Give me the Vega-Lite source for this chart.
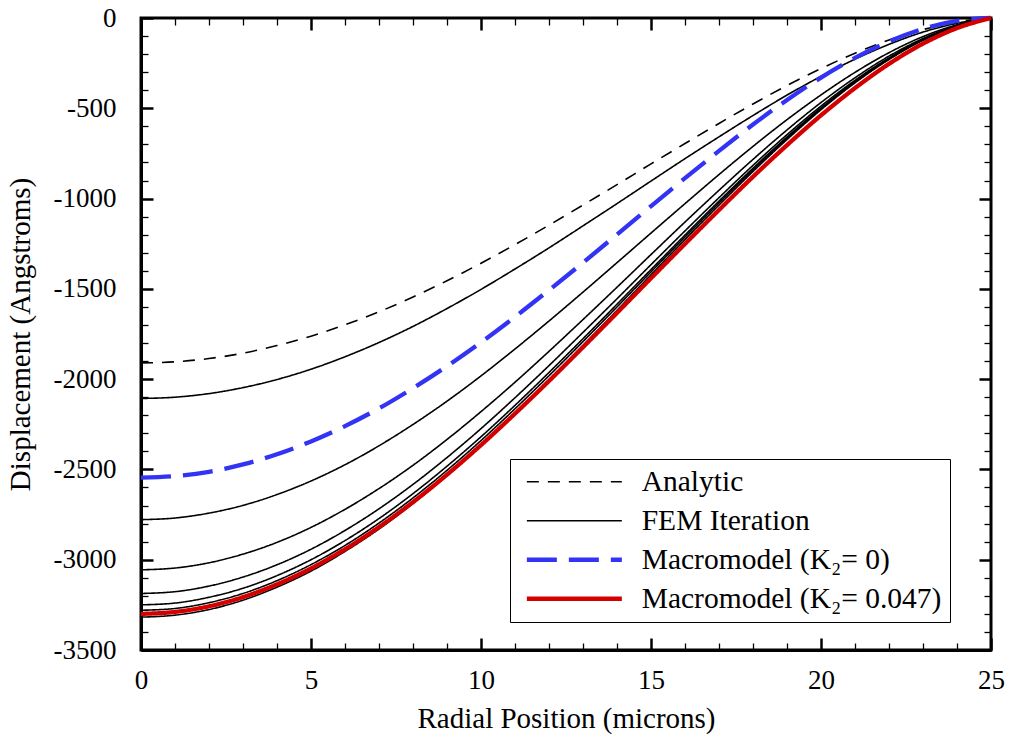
{
"$schema":"https://vega.github.io/schema/vega-lite/v6.json",
"width":850,"height":632,
"autosize":{"type":"none"},
"padding":{"left":141,"top":18,"right":18,"bottom":93},
"background":"white",
"config":{"view":{"stroke":"black","strokeWidth":3},"font":"Liberation Serif",
 "legend":{"title":null,"orient":"none","legendX":369,"legendY":441,"symbolType":"M-4,0H4","symbolSize":564,"symbolOffset":41.6,"labelOffset":52.6,"labelFont":"Liberation Serif","labelFontSize":29.5,"labelColor":"black","labelLimit":600,"strokeColor":"black","fillColor":"white","padding":8,"rowPadding":8}},
"datasets":{"d":[
{"s":"Analytic","run":"A","r":0,"w":-1910},{"s":"Analytic","run":"A","r":1,"w":-1904},{"s":"Analytic","run":"A","r":2,"w":-1886},{"s":"Analytic","run":"A","r":3,"w":-1856},{"s":"Analytic","run":"A","r":4,"w":-1814},{"s":"Analytic","run":"A","r":5,"w":-1762},{"s":"Analytic","run":"A","r":6,"w":-1699},{"s":"Analytic","run":"A","r":7,"w":-1627},{"s":"Analytic","run":"A","r":8,"w":-1545},{"s":"Analytic","run":"A","r":9,"w":-1455},{"s":"Analytic","run":"A","r":10,"w":-1358},{"s":"Analytic","run":"A","r":11,"w":-1255},{"s":"Analytic","run":"A","r":12,"w":-1147},{"s":"Analytic","run":"A","r":13,"w":-1036},{"s":"Analytic","run":"A","r":14,"w":-923},{"s":"Analytic","run":"A","r":15,"w":-808},{"s":"Analytic","run":"A","r":16,"w":-695},{"s":"Analytic","run":"A","r":17,"w":-584},{"s":"Analytic","run":"A","r":18,"w":-476},{"s":"Analytic","run":"A","r":19,"w":-374},{"s":"Analytic","run":"A","r":20,"w":-280},{"s":"Analytic","run":"A","r":21,"w":-195},{"s":"Analytic","run":"A","r":22,"w":-122},{"s":"Analytic","run":"A","r":23,"w":-64},{"s":"Analytic","run":"A","r":24,"w":-22},{"s":"Analytic","run":"A","r":25,"w":0},
{"s":"FEM Iteration","run":"F1","r":0,"w":-2107},{"s":"FEM Iteration","run":"F1","r":1,"w":-2100},{"s":"FEM Iteration","run":"F1","r":2,"w":-2080},{"s":"FEM Iteration","run":"F1","r":3,"w":-2047},{"s":"FEM Iteration","run":"F1","r":4,"w":-2002},{"s":"FEM Iteration","run":"F1","r":5,"w":-1945},{"s":"FEM Iteration","run":"F1","r":6,"w":-1876},{"s":"FEM Iteration","run":"F1","r":7,"w":-1797},{"s":"FEM Iteration","run":"F1","r":8,"w":-1708},{"s":"FEM Iteration","run":"F1","r":9,"w":-1609},{"s":"FEM Iteration","run":"F1","r":10,"w":-1503},{"s":"FEM Iteration","run":"F1","r":11,"w":-1390},{"s":"FEM Iteration","run":"F1","r":12,"w":-1273},{"s":"FEM Iteration","run":"F1","r":13,"w":-1151},{"s":"FEM Iteration","run":"F1","r":14,"w":-1028},{"s":"FEM Iteration","run":"F1","r":15,"w":-903},{"s":"FEM Iteration","run":"F1","r":16,"w":-779},{"s":"FEM Iteration","run":"F1","r":17,"w":-658},{"s":"FEM Iteration","run":"F1","r":18,"w":-540},{"s":"FEM Iteration","run":"F1","r":19,"w":-427},{"s":"FEM Iteration","run":"F1","r":20,"w":-323},{"s":"FEM Iteration","run":"F1","r":21,"w":-228},{"s":"FEM Iteration","run":"F1","r":22,"w":-146},{"s":"FEM Iteration","run":"F1","r":23,"w":-78},{"s":"FEM Iteration","run":"F1","r":24,"w":-29},{"s":"FEM Iteration","run":"F1","r":25,"w":0},
{"s":"FEM Iteration","run":"F2","r":0,"w":-2778},{"s":"FEM Iteration","run":"F2","r":1,"w":-2769},{"s":"FEM Iteration","run":"F2","r":2,"w":-2742},{"s":"FEM Iteration","run":"F2","r":3,"w":-2699},{"s":"FEM Iteration","run":"F2","r":4,"w":-2639},{"s":"FEM Iteration","run":"F2","r":5,"w":-2564},{"s":"FEM Iteration","run":"F2","r":6,"w":-2474},{"s":"FEM Iteration","run":"F2","r":7,"w":-2369},{"s":"FEM Iteration","run":"F2","r":8,"w":-2251},{"s":"FEM Iteration","run":"F2","r":9,"w":-2122},{"s":"FEM Iteration","run":"F2","r":10,"w":-1982},{"s":"FEM Iteration","run":"F2","r":11,"w":-1833},{"s":"FEM Iteration","run":"F2","r":12,"w":-1678},{"s":"FEM Iteration","run":"F2","r":13,"w":-1518},{"s":"FEM Iteration","run":"F2","r":14,"w":-1355},{"s":"FEM Iteration","run":"F2","r":15,"w":-1191},{"s":"FEM Iteration","run":"F2","r":16,"w":-1028},{"s":"FEM Iteration","run":"F2","r":17,"w":-867},{"s":"FEM Iteration","run":"F2","r":18,"w":-711},{"s":"FEM Iteration","run":"F2","r":19,"w":-563},{"s":"FEM Iteration","run":"F2","r":20,"w":-426},{"s":"FEM Iteration","run":"F2","r":21,"w":-301},{"s":"FEM Iteration","run":"F2","r":22,"w":-192},{"s":"FEM Iteration","run":"F2","r":23,"w":-103},{"s":"FEM Iteration","run":"F2","r":24,"w":-38},{"s":"FEM Iteration","run":"F2","r":25,"w":0},
{"s":"FEM Iteration","run":"F3","r":0,"w":-3056},{"s":"FEM Iteration","run":"F3","r":1,"w":-3046},{"s":"FEM Iteration","run":"F3","r":2,"w":-3017},{"s":"FEM Iteration","run":"F3","r":3,"w":-2969},{"s":"FEM Iteration","run":"F3","r":4,"w":-2904},{"s":"FEM Iteration","run":"F3","r":5,"w":-2821},{"s":"FEM Iteration","run":"F3","r":6,"w":-2721},{"s":"FEM Iteration","run":"F3","r":7,"w":-2606},{"s":"FEM Iteration","run":"F3","r":8,"w":-2477},{"s":"FEM Iteration","run":"F3","r":9,"w":-2334},{"s":"FEM Iteration","run":"F3","r":10,"w":-2180},{"s":"FEM Iteration","run":"F3","r":11,"w":-2017},{"s":"FEM Iteration","run":"F3","r":12,"w":-1846},{"s":"FEM Iteration","run":"F3","r":13,"w":-1670},{"s":"FEM Iteration","run":"F3","r":14,"w":-1491},{"s":"FEM Iteration","run":"F3","r":15,"w":-1310},{"s":"FEM Iteration","run":"F3","r":16,"w":-1130},{"s":"FEM Iteration","run":"F3","r":17,"w":-954},{"s":"FEM Iteration","run":"F3","r":18,"w":-783},{"s":"FEM Iteration","run":"F3","r":19,"w":-620},{"s":"FEM Iteration","run":"F3","r":20,"w":-468},{"s":"FEM Iteration","run":"F3","r":21,"w":-331},{"s":"FEM Iteration","run":"F3","r":22,"w":-211},{"s":"FEM Iteration","run":"F3","r":23,"w":-114},{"s":"FEM Iteration","run":"F3","r":24,"w":-42},{"s":"FEM Iteration","run":"F3","r":25,"w":0},
{"s":"FEM Iteration","run":"F4","r":0,"w":-3187},{"s":"FEM Iteration","run":"F4","r":1,"w":-3177},{"s":"FEM Iteration","run":"F4","r":2,"w":-3146},{"s":"FEM Iteration","run":"F4","r":3,"w":-3096},{"s":"FEM Iteration","run":"F4","r":4,"w":-3028},{"s":"FEM Iteration","run":"F4","r":5,"w":-2942},{"s":"FEM Iteration","run":"F4","r":6,"w":-2838},{"s":"FEM Iteration","run":"F4","r":7,"w":-2718},{"s":"FEM Iteration","run":"F4","r":8,"w":-2583},{"s":"FEM Iteration","run":"F4","r":9,"w":-2434},{"s":"FEM Iteration","run":"F4","r":10,"w":-2274},{"s":"FEM Iteration","run":"F4","r":11,"w":-2103},{"s":"FEM Iteration","run":"F4","r":12,"w":-1925},{"s":"FEM Iteration","run":"F4","r":13,"w":-1741},{"s":"FEM Iteration","run":"F4","r":14,"w":-1555},{"s":"FEM Iteration","run":"F4","r":15,"w":-1366},{"s":"FEM Iteration","run":"F4","r":16,"w":-1179},{"s":"FEM Iteration","run":"F4","r":17,"w":-995},{"s":"FEM Iteration","run":"F4","r":18,"w":-816},{"s":"FEM Iteration","run":"F4","r":19,"w":-646},{"s":"FEM Iteration","run":"F4","r":20,"w":-488},{"s":"FEM Iteration","run":"F4","r":21,"w":-345},{"s":"FEM Iteration","run":"F4","r":22,"w":-221},{"s":"FEM Iteration","run":"F4","r":23,"w":-119},{"s":"FEM Iteration","run":"F4","r":24,"w":-44},{"s":"FEM Iteration","run":"F4","r":25,"w":0},
{"s":"FEM Iteration","run":"F5","r":0,"w":-3250},{"s":"FEM Iteration","run":"F5","r":1,"w":-3240},{"s":"FEM Iteration","run":"F5","r":2,"w":-3208},{"s":"FEM Iteration","run":"F5","r":3,"w":-3158},{"s":"FEM Iteration","run":"F5","r":4,"w":-3088},{"s":"FEM Iteration","run":"F5","r":5,"w":-3000},{"s":"FEM Iteration","run":"F5","r":6,"w":-2894},{"s":"FEM Iteration","run":"F5","r":7,"w":-2772},{"s":"FEM Iteration","run":"F5","r":8,"w":-2634},{"s":"FEM Iteration","run":"F5","r":9,"w":-2482},{"s":"FEM Iteration","run":"F5","r":10,"w":-2319},{"s":"FEM Iteration","run":"F5","r":11,"w":-2145},{"s":"FEM Iteration","run":"F5","r":12,"w":-1963},{"s":"FEM Iteration","run":"F5","r":13,"w":-1776},{"s":"FEM Iteration","run":"F5","r":14,"w":-1585},{"s":"FEM Iteration","run":"F5","r":15,"w":-1393},{"s":"FEM Iteration","run":"F5","r":16,"w":-1202},{"s":"FEM Iteration","run":"F5","r":17,"w":-1014},{"s":"FEM Iteration","run":"F5","r":18,"w":-832},{"s":"FEM Iteration","run":"F5","r":19,"w":-659},{"s":"FEM Iteration","run":"F5","r":20,"w":-498},{"s":"FEM Iteration","run":"F5","r":21,"w":-352},{"s":"FEM Iteration","run":"F5","r":22,"w":-225},{"s":"FEM Iteration","run":"F5","r":23,"w":-121},{"s":"FEM Iteration","run":"F5","r":24,"w":-45},{"s":"FEM Iteration","run":"F5","r":25,"w":0},
{"s":"FEM Iteration","run":"F6","r":0,"w":-3280},{"s":"FEM Iteration","run":"F6","r":1,"w":-3270},{"s":"FEM Iteration","run":"F6","r":2,"w":-3238},{"s":"FEM Iteration","run":"F6","r":3,"w":-3187},{"s":"FEM Iteration","run":"F6","r":4,"w":-3116},{"s":"FEM Iteration","run":"F6","r":5,"w":-3027},{"s":"FEM Iteration","run":"F6","r":6,"w":-2921},{"s":"FEM Iteration","run":"F6","r":7,"w":-2797},{"s":"FEM Iteration","run":"F6","r":8,"w":-2658},{"s":"FEM Iteration","run":"F6","r":9,"w":-2505},{"s":"FEM Iteration","run":"F6","r":10,"w":-2340},{"s":"FEM Iteration","run":"F6","r":11,"w":-2164},{"s":"FEM Iteration","run":"F6","r":12,"w":-1981},{"s":"FEM Iteration","run":"F6","r":13,"w":-1792},{"s":"FEM Iteration","run":"F6","r":14,"w":-1600},{"s":"FEM Iteration","run":"F6","r":15,"w":-1406},{"s":"FEM Iteration","run":"F6","r":16,"w":-1213},{"s":"FEM Iteration","run":"F6","r":17,"w":-1024},{"s":"FEM Iteration","run":"F6","r":18,"w":-840},{"s":"FEM Iteration","run":"F6","r":19,"w":-665},{"s":"FEM Iteration","run":"F6","r":20,"w":-502},{"s":"FEM Iteration","run":"F6","r":21,"w":-355},{"s":"FEM Iteration","run":"F6","r":22,"w":-227},{"s":"FEM Iteration","run":"F6","r":23,"w":-122},{"s":"FEM Iteration","run":"F6","r":24,"w":-45},{"s":"FEM Iteration","run":"F6","r":25,"w":0},
{"s":"FEM Iteration","run":"F7","r":0,"w":-3318},{"s":"FEM Iteration","run":"F7","r":1,"w":-3307},{"s":"FEM Iteration","run":"F7","r":2,"w":-3276},{"s":"FEM Iteration","run":"F7","r":3,"w":-3224},{"s":"FEM Iteration","run":"F7","r":4,"w":-3152},{"s":"FEM Iteration","run":"F7","r":5,"w":-3063},{"s":"FEM Iteration","run":"F7","r":6,"w":-2954},{"s":"FEM Iteration","run":"F7","r":7,"w":-2830},{"s":"FEM Iteration","run":"F7","r":8,"w":-2689},{"s":"FEM Iteration","run":"F7","r":9,"w":-2534},{"s":"FEM Iteration","run":"F7","r":10,"w":-2367},{"s":"FEM Iteration","run":"F7","r":11,"w":-2190},{"s":"FEM Iteration","run":"F7","r":12,"w":-2004},{"s":"FEM Iteration","run":"F7","r":13,"w":-1813},{"s":"FEM Iteration","run":"F7","r":14,"w":-1619},{"s":"FEM Iteration","run":"F7","r":15,"w":-1422},{"s":"FEM Iteration","run":"F7","r":16,"w":-1227},{"s":"FEM Iteration","run":"F7","r":17,"w":-1036},{"s":"FEM Iteration","run":"F7","r":18,"w":-850},{"s":"FEM Iteration","run":"F7","r":19,"w":-673},{"s":"FEM Iteration","run":"F7","r":20,"w":-508},{"s":"FEM Iteration","run":"F7","r":21,"w":-359},{"s":"FEM Iteration","run":"F7","r":22,"w":-230},{"s":"FEM Iteration","run":"F7","r":23,"w":-123},{"s":"FEM Iteration","run":"F7","r":24,"w":-46},{"s":"FEM Iteration","run":"F7","r":25,"w":0},
{"s":"Macromodel (K₂= 0)","run":"B","r":0,"w":-2545},{"s":"Macromodel (K₂= 0)","run":"B","r":1,"w":-2537},{"s":"Macromodel (K₂= 0)","run":"B","r":2,"w":-2513},{"s":"Macromodel (K₂= 0)","run":"B","r":3,"w":-2472},{"s":"Macromodel (K₂= 0)","run":"B","r":4,"w":-2416},{"s":"Macromodel (K₂= 0)","run":"B","r":5,"w":-2345},{"s":"Macromodel (K₂= 0)","run":"B","r":6,"w":-2260},{"s":"Macromodel (K₂= 0)","run":"B","r":7,"w":-2162},{"s":"Macromodel (K₂= 0)","run":"B","r":8,"w":-2050},{"s":"Macromodel (K₂= 0)","run":"B","r":9,"w":-1928},{"s":"Macromodel (K₂= 0)","run":"B","r":10,"w":-1796},{"s":"Macromodel (K₂= 0)","run":"B","r":11,"w":-1655},{"s":"Macromodel (K₂= 0)","run":"B","r":12,"w":-1507},{"s":"Macromodel (K₂= 0)","run":"B","r":13,"w":-1355},{"s":"Macromodel (K₂= 0)","run":"B","r":14,"w":-1199},{"s":"Macromodel (K₂= 0)","run":"B","r":15,"w":-1042},{"s":"Macromodel (K₂= 0)","run":"B","r":16,"w":-887},{"s":"Macromodel (K₂= 0)","run":"B","r":17,"w":-736},{"s":"Macromodel (K₂= 0)","run":"B","r":18,"w":-590},{"s":"Macromodel (K₂= 0)","run":"B","r":19,"w":-454},{"s":"Macromodel (K₂= 0)","run":"B","r":20,"w":-330},{"s":"Macromodel (K₂= 0)","run":"B","r":21,"w":-221},{"s":"Macromodel (K₂= 0)","run":"B","r":22,"w":-130},{"s":"Macromodel (K₂= 0)","run":"B","r":23,"w":-60},{"s":"Macromodel (K₂= 0)","run":"B","r":24,"w":-16},{"s":"Macromodel (K₂= 0)","run":"B","r":25,"w":0},
{"s":"Macromodel (K₂= 0.047)","run":"R","r":0,"w":-3300},{"s":"Macromodel (K₂= 0.047)","run":"R","r":1,"w":-3289},{"s":"Macromodel (K₂= 0.047)","run":"R","r":2,"w":-3258},{"s":"Macromodel (K₂= 0.047)","run":"R","r":3,"w":-3207},{"s":"Macromodel (K₂= 0.047)","run":"R","r":4,"w":-3136},{"s":"Macromodel (K₂= 0.047)","run":"R","r":5,"w":-3048},{"s":"Macromodel (K₂= 0.047)","run":"R","r":6,"w":-2942},{"s":"Macromodel (K₂= 0.047)","run":"R","r":7,"w":-2819},{"s":"Macromodel (K₂= 0.047)","run":"R","r":8,"w":-2681},{"s":"Macromodel (K₂= 0.047)","run":"R","r":9,"w":-2529},{"s":"Macromodel (K₂= 0.047)","run":"R","r":10,"w":-2365},{"s":"Macromodel (K₂= 0.047)","run":"R","r":11,"w":-2191},{"s":"Macromodel (K₂= 0.047)","run":"R","r":12,"w":-2010},{"s":"Macromodel (K₂= 0.047)","run":"R","r":13,"w":-1823},{"s":"Macromodel (K₂= 0.047)","run":"R","r":14,"w":-1633},{"s":"Macromodel (K₂= 0.047)","run":"R","r":15,"w":-1441},{"s":"Macromodel (K₂= 0.047)","run":"R","r":16,"w":-1251},{"s":"Macromodel (K₂= 0.047)","run":"R","r":17,"w":-1063},{"s":"Macromodel (K₂= 0.047)","run":"R","r":18,"w":-879},{"s":"Macromodel (K₂= 0.047)","run":"R","r":19,"w":-704},{"s":"Macromodel (K₂= 0.047)","run":"R","r":20,"w":-539},{"s":"Macromodel (K₂= 0.047)","run":"R","r":21,"w":-388},{"s":"Macromodel (K₂= 0.047)","run":"R","r":22,"w":-254},{"s":"Macromodel (K₂= 0.047)","run":"R","r":23,"w":-142},{"s":"Macromodel (K₂= 0.047)","run":"R","r":24,"w":-56},{"s":"Macromodel (K₂= 0.047)","run":"R","r":25,"w":0}
]},
"data":{"name":"d"},
"layer":[
{"transform":[{"filter":"datum.s === 'Analytic' || datum.s === 'FEM Iteration'"}],
 "mark":{"type":"line","interpolate":"monotone","strokeWidth":1.6},
 "encoding":{
  "x":{"field":"r","type":"quantitative","scale":{"domain":[0,25],"nice":false,"zero":false},
   "axis":{"orient":"bottom","grid":false,"values":[0,1,2,3,4,5,6,7,8,9,10,11,12,13,14,15,16,17,18,19,20,21,22,23,24,25],
    "labelExpr":"datum.value % 5 === 0 ? '' + datum.value : ''",
    "tickSize":{"condition":{"test":"datum.value % 5 === 0","value":-12},"value":-7},
    "tickWidth":{"condition":{"test":"datum.value % 5 === 0","value":2.5},"value":1.3},
    "tickColor":"black","domainColor":"black","domainWidth":3,"labelFont":"Liberation Serif","labelFontSize":27,"labelColor":"black","labelPadding":29,"labelFlush":false,"labelOverlap":false,
    "title":"Radial Position (microns)","titleFont":"Liberation Serif","titleFontSize":29,"titleFontWeight":"normal","titleColor":"black","titlePadding":6}},
  "y":{"field":"w","type":"quantitative","scale":{"domain":[-3500,0],"nice":false,"zero":false},
   "axis":{"orient":"left","grid":false,"values":[-3500,-3400,-3300,-3200,-3100,-3000,-2900,-2800,-2700,-2600,-2500,-2400,-2300,-2200,-2100,-2000,-1900,-1800,-1700,-1600,-1500,-1400,-1300,-1200,-1100,-1000,-900,-800,-700,-600,-500,-400,-300,-200,-100,0],
    "labelExpr":"datum.value % 500 === 0 ? '' + datum.value : ''",
    "tickSize":{"condition":{"test":"datum.value % 500 === 0","value":-12},"value":-7},
    "tickWidth":{"condition":{"test":"datum.value % 500 === 0","value":2.5},"value":1.3},
    "tickColor":"black","domainColor":"black","domainWidth":3,"labelFont":"Liberation Serif","labelFontSize":27,"labelColor":"black","labelPadding":37,"labelFlush":false,"labelOverlap":false,
    "title":"Displacement (Angstroms)","titleFont":"Liberation Serif","titleFontSize":29,"titleFontWeight":"normal","titleColor":"black","titlePadding":18}},
  "color":{"field":"s","type":"nominal","scale":{"domain":["Analytic","FEM Iteration","Macromodel (K₂= 0)","Macromodel (K₂= 0.047)"],"range":["#000000","#000000","#3333f5","#d40000"]},
   "legend":{"encode":{"symbols":{"update":{"strokeWidth":{"signal":"datum.value === 'Analytic' || datum.value === 'FEM Iteration' ? 1.6 : 4.5"}}}}}},
  "strokeDash":{"field":"s","type":"nominal","scale":{"domain":["Analytic","FEM Iteration","Macromodel (K₂= 0)","Macromodel (K₂= 0.047)"],"range":[[12,9],[1,0],[30,12],[1,0]]},
   "legend":{"encode":{"symbols":{"update":{"strokeWidth":{"signal":"datum.value === 'Analytic' || datum.value === 'FEM Iteration' ? 1.6 : 4.5"}}}}}},
  "detail":{"field":"run","type":"nominal"}
 }},
{"transform":[{"filter":"datum.s !== 'Analytic' && datum.s !== 'FEM Iteration'"}],
 "mark":{"type":"line","interpolate":"monotone","strokeWidth":4.3},
 "encoding":{
  "x":{"field":"r","type":"quantitative","axis":null},
  "y":{"field":"w","type":"quantitative","axis":null},
  "color":{"field":"s","type":"nominal","scale":{"domain":["Analytic","FEM Iteration","Macromodel (K₂= 0)","Macromodel (K₂= 0.047)"],"range":["#000000","#000000","#3333f5","#d40000"]},
   "legend":{"encode":{"symbols":{"update":{"strokeWidth":{"signal":"datum.value === 'Analytic' || datum.value === 'FEM Iteration' ? 1.6 : 4.5"}}}}}},
  "strokeDash":{"field":"s","type":"nominal","scale":{"domain":["Analytic","FEM Iteration","Macromodel (K₂= 0)","Macromodel (K₂= 0.047)"],"range":[[12,9],[1,0],[30,12],[1,0]]},
   "legend":{"encode":{"symbols":{"update":{"strokeWidth":{"signal":"datum.value === 'Analytic' || datum.value === 'FEM Iteration' ? 1.6 : 4.5"}}}}}},
  "detail":{"field":"run","type":"nominal"}
 }},
{"mark":{"type":"point","opacity":0},
 "encoding":{
  "x":{"field":"r","type":"quantitative",
   "axis":{"orient":"top","grid":false,"labels":false,"title":null,"domain":false,"values":[0,1,2,3,4,5,6,7,8,9,10,11,12,13,14,15,16,17,18,19,20,21,22,23,24,25],
    "tickSize":{"condition":{"test":"datum.value % 5 === 0","value":-12},"value":-7},
    "tickWidth":{"condition":{"test":"datum.value % 5 === 0","value":2.5},"value":1.3},"tickColor":"black"}},
  "y":{"field":"w","type":"quantitative",
   "axis":{"orient":"right","grid":false,"labels":false,"title":null,"domain":false,"values":[-3500,-3400,-3300,-3200,-3100,-3000,-2900,-2800,-2700,-2600,-2500,-2400,-2300,-2200,-2100,-2000,-1900,-1800,-1700,-1600,-1500,-1400,-1300,-1200,-1100,-1000,-900,-800,-700,-600,-500,-400,-300,-200,-100,0],
    "tickSize":{"condition":{"test":"datum.value % 500 === 0","value":-12},"value":-7},
    "tickWidth":{"condition":{"test":"datum.value % 500 === 0","value":2.5},"value":1.3},"tickColor":"black"}}
 }}
],
"resolve":{"axis":{"x":"independent","y":"independent"}}
}
